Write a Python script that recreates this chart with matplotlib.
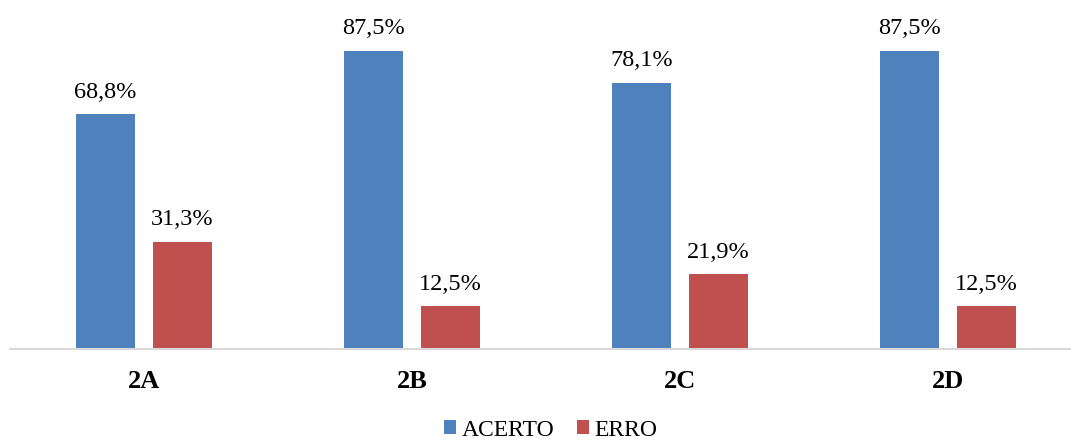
import matplotlib
matplotlib.use("Agg")
import matplotlib.pyplot as plt
import numpy as np

categories = ["2A", "2B", "2C", "2D"]
acerto = [68.8, 87.5, 78.1, 87.5]
erro = [31.3, 12.5, 21.9, 12.5]
series_names = ["ACERTO", "ERRO"]

plt.rcParams['font.family'] = ['Liberation Serif', 'DejaVu Serif']

W, H = 1071, 441
fig = plt.figure(figsize=(W/100, H/100), dpi=100)
ax = fig.add_axes([10/W, 1-349/H, 1-10/W, (349-8)/H])

x = np.arange(len(categories))
bw = 0.22
off = 0.143
c1, c2 = "#4F81BD", "#C0504D"
b1 = ax.bar(x - off, acerto, bw, color=c1, label=series_names[0])
b2 = ax.bar(x + off, erro, bw, color=c2, label=series_names[1])

for bars, vals in ((b1, acerto), (b2, erro)):
    for r, v in zip(bars, vals):
        ax.annotate(f"{v:.1f}%".replace(".", ","), (r.get_x() + r.get_width()/2, v),
                    xytext=(0, 8.5), textcoords="offset points", ha="center", va="bottom",
                    fontsize=17.5)

ax.set_xlim(-0.5, (1071-144)/268)
ax.set_ylim(0, 100)
for s in ("top", "right", "left"):
    ax.spines[s].set_visible(False)
ax.spines["bottom"].set_color("#D9D9D9")
ax.spines["bottom"].set_linewidth(1.5)
ax.set_yticks([])
ax.set_xticks(x)
ax.set_xticklabels(categories, fontsize=19, fontweight="bold")
ax.tick_params(axis="x", length=0, pad=15)

fig.legend(handles=[b1, b2], labels=series_names, loc="center", bbox_to_anchor=(551/W, 1-430/H),
           ncol=2, frameon=False, fontsize=17, handlelength=0.51, handleheight=0.51,
           handletextpad=0.25, columnspacing=0.93, borderaxespad=0, borderpad=0)

fig.savefig("out.png", dpi=100)
